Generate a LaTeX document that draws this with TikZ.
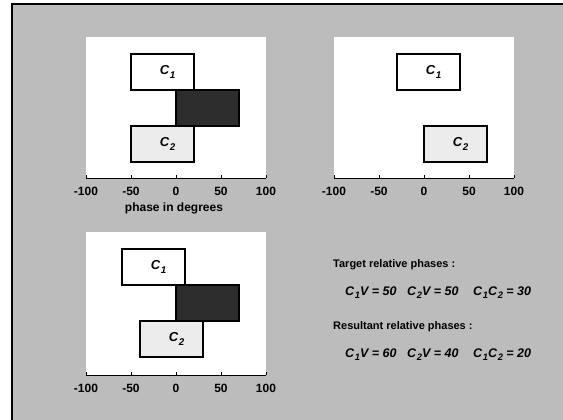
\documentclass[tikz,border=0pt]{standalone}
\usepackage{fontspec}
\setmainfont{Liberation Sans}
\definecolor{bggray}{RGB}{188,188,188}
\definecolor{darkfill}{RGB}{45,45,45}
\definecolor{lightfill}{RGB}{236,236,236}
\newcommand{\Cs}[1]{\textit{C}\kern0.5pt\raisebox{-0.45ex}{\scalebox{0.75}{\textit{#1}}}}
\begin{document}
\begin{tikzpicture}[x=1pt,y=-1pt,
  cbox/.style={draw=black,line width=1.8pt,fill=white,inner sep=0pt},
  vbox/.style={draw=black,line width=1.8pt,fill=darkfill,inner sep=0pt},
  lbox/.style={draw=black,line width=1.8pt,fill=lightfill,inner sep=0pt},
  clab/.style={font=\fontsize{13}{13}\selectfont\bfseries,inner sep=0pt},
  ticklab/.style={font=\fontsize{12}{12}\selectfont\bfseries,inner sep=0pt},
  txt/.style={font=\fontsize{11}{12}\selectfont\bfseries,inner sep=0pt,anchor=west},
  eq/.style={font=\fontsize{12.5}{13}\selectfont\bfseries,inner sep=0pt,anchor=west},
  axisline/.style={line width=0.9pt}]
\useasboundingbox (0,0) rectangle (563,420);
% background
\fill[bggray] (12,4) rectangle (563,420);
\draw[line width=1.6pt] (12,420) -- (12,4) -- (563,4);
% ---------- panel 1 ----------
\fill[white] (86,37) rectangle (266,178);
\node[cbox,minimum width=63pt,minimum height=36pt] (p1c1) at (162.5,72) {};
\node[vbox,minimum width=63pt,minimum height=36pt] (p1v) at (207.5,108) {};
\node[lbox,minimum width=63pt,minimum height=36pt] (p1c2) at (162.5,144) {};
\node[clab] (p1c1l) at ([xshift=5pt]p1c1.center) {\Cs{1}};
\node[clab] (p1c2l) at ([xshift=5pt]p1c2.center) {\Cs{2}};
\coordinate (p1a) at (86,178);
\coordinate (p1b) at (266,178);
\draw[axisline] (p1a) -- (p1b);
\foreach \t in {86,131,176,221,266} \draw[axisline] (\t,178) -- (\t,175);
\node[ticklab] (p1t1) at (86,191) {-100};
\node[ticklab] (p1t2) at (131,191) {-50};
\node[ticklab] (p1t3) at (176,191) {0};
\node[ticklab] (p1t4) at (221,191) {50};
\node[ticklab] (p1t5) at (266,191) {100};
\node[ticklab] (xlab) at (174,208) {phase in degrees};
% ---------- panel 2 ----------
\fill[white] (334,37) rectangle (514,178);
\node[cbox,minimum width=63pt,minimum height=36pt] (p2c1) at (428.5,72) {};
\node[lbox,minimum width=63pt,minimum height=36pt] (p2c2) at (455.5,144) {};
\node[clab] (p2c1l) at ([xshift=5pt]p2c1.center) {\Cs{1}};
\node[clab] (p2c2l) at ([xshift=5pt]p2c2.center) {\Cs{2}};
\coordinate (p2a) at (334,178);
\coordinate (p2b) at (514,178);
\draw[axisline] (p2a) -- (p2b);
\foreach \t in {334,379,424,469,514} \draw[axisline] (\t,178) -- (\t,175);
\node[ticklab] (p2t1) at (334,191) {-100};
\node[ticklab] (p2t2) at (379,191) {-50};
\node[ticklab] (p2t3) at (424,191) {0};
\node[ticklab] (p2t4) at (469,191) {50};
\node[ticklab] (p2t5) at (514,191) {100};
% ---------- panel 3 ----------
\fill[white] (86,232) rectangle (266,375);
\node[cbox,minimum width=63pt,minimum height=36pt] (p3c1) at (153.5,267) {};
\node[vbox,minimum width=63pt,minimum height=36pt] (p3v) at (207.5,303) {};
\node[lbox,minimum width=63pt,minimum height=36pt] (p3c2) at (171.5,339) {};
\node[clab] (p3c1l) at ([xshift=5pt]p3c1.center) {\Cs{1}};
\node[clab] (p3c2l) at ([xshift=5pt]p3c2.center) {\Cs{2}};
\coordinate (p3a) at (86,375);
\coordinate (p3b) at (266,375);
\draw[axisline] (p3a) -- (p3b);
\foreach \t in {86,131,176,221,266} \draw[axisline] (\t,375) -- (\t,372);
\node[ticklab] (p3t1) at (86,388) {-100};
\node[ticklab] (p3t2) at (131,388) {-50};
\node[ticklab] (p3t3) at (176,388) {0};
\node[ticklab] (p3t4) at (221,388) {50};
\node[ticklab] (p3t5) at (266,388) {100};
% ---------- text ----------
\node[txt] (tgt) at (333,265) {Target relative phases :};
\node[eq] (e1) at (345,293) {\Cs{1}\textit{V = 50}};
\node[eq] (e2) at (407,293) {\Cs{2}\textit{V = 50}};
\node[eq] (e3) at (473,293) {\Cs{1}\Cs{2}\textit{ = 30}};
\node[txt] (res) at (333,327) {Resultant relative phases :};
\node[eq] (f1) at (345,355) {\Cs{1}\textit{V = 60}};
\node[eq] (f2) at (407,355) {\Cs{2}\textit{V = 40}};
\node[eq] (f3) at (473,355) {\Cs{1}\Cs{2}\textit{ = 20}};
\end{tikzpicture}
\end{document}
